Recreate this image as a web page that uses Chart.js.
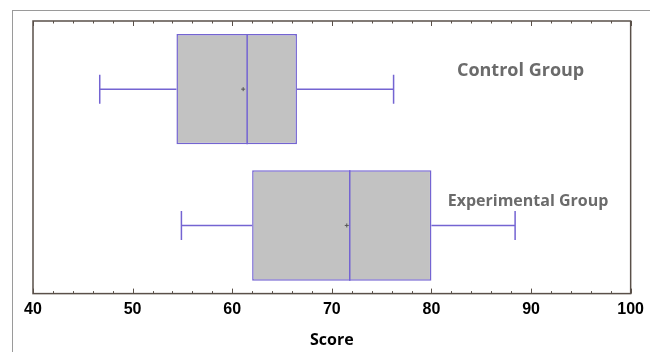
<!DOCTYPE html>
<html>
<head>
<meta charset="utf-8">
<script src="https://cdn.jsdelivr.net/npm/chart.js@4"></script>
<style>
  html, body { margin: 0; padding: 0; background: #fff; }
  #wrap { width: 650px; height: 352px; }
</style>
</head>
<body>
<div id="wrap"><canvas id="box-chart" width="650" height="352"></canvas></div>
<script>
const categories = ['Control Group', 'Experimental Group']
const whiskerLow = [46.7, 54.9]
const q1 = [54.4, 62.0]
const medians = [61.5, 71.8]
const q3 = [66.5, 80.0]
const whiskerHigh = [76.2, 88.4]
const means = [61.1, 71.5]
const xTicks = [40, 50, 60, 70, 80, 90, 100]

const boxColor = '#c2c2c2'
const lineColor = '#7464d2'

// frame, inner ticks, whiskers, medians and group names
const boxPlotExtras = {
    id: 'boxPlotExtras',
    beforeDraw(chart) {
        const ctx = chart.ctx
        ctx.save()
        ctx.strokeStyle = '#9a9a9a'
        ctx.lineWidth = 1
        ctx.strokeRect(12.5, 10.5, 660, 360)
        ctx.restore()
    },
    afterDatasetsDraw(chart) {
        const ctx = chart.ctx
        const area = chart.chartArea
        const x = chart.scales.x
        const meta = chart.getDatasetMeta(0)
        ctx.save()

        // plot frame
        ctx.strokeStyle = '#5a5049'
        ctx.lineWidth = 1.5
        ctx.strokeRect(area.left, area.top, area.right - area.left, area.bottom - area.top)

        // inside ticks, bottom and top
        ctx.lineWidth = 1
        for (let v = x.min; v <= x.max; v += 2) {
            const px = Math.round(x.getPixelForValue(v)) + 0.5
            const len = v % 10 === 0 ? 5 : 2.5
            ctx.beginPath()
            ctx.moveTo(px, area.bottom)
            ctx.lineTo(px, area.bottom - len)
            ctx.moveTo(px, area.top)
            ctx.lineTo(px, area.top + len)
            ctx.stroke()
        }

        meta.data.forEach((bar, i) => {
            const y = bar.y
            const half = bar.height / 2
            const cap = 14.5
            ctx.strokeStyle = lineColor
            ctx.lineWidth = 1.5
            ctx.beginPath()
            // whiskers
            ctx.moveTo(x.getPixelForValue(whiskerLow[i]), y)
            ctx.lineTo(x.getPixelForValue(q1[i]), y)
            ctx.moveTo(x.getPixelForValue(q3[i]), y)
            ctx.lineTo(x.getPixelForValue(whiskerHigh[i]), y)
            ctx.moveTo(x.getPixelForValue(whiskerLow[i]), y - cap)
            ctx.lineTo(x.getPixelForValue(whiskerLow[i]), y + cap)
            ctx.moveTo(x.getPixelForValue(whiskerHigh[i]), y - cap)
            ctx.lineTo(x.getPixelForValue(whiskerHigh[i]), y + cap)
            // median
            ctx.moveTo(x.getPixelForValue(medians[i]), y - half)
            ctx.lineTo(x.getPixelForValue(medians[i]), y + half)
            ctx.stroke()

            // mean mark
            const mx = x.getPixelForValue(means[i])
            ctx.strokeStyle = '#555'
            ctx.lineWidth = 1
            ctx.beginPath()
            ctx.moveTo(mx - 2, y)
            ctx.lineTo(mx + 2, y)
            ctx.moveTo(mx, y - 2)
            ctx.lineTo(mx, y + 2)
            ctx.stroke()
        })

        // group names
        ctx.fillStyle = '#6b6b6b'
        ctx.textAlign = 'center'
        ctx.textBaseline = 'middle'
        const c0 = meta.data[0], c1 = meta.data[1]
        ctx.font = 'bold 18px "Open Sans"'
        ctx.fillText(categories[0], x.getPixelForValue(88.95), c0.y - 18)
        ctx.font = 'bold 16px "Open Sans"'
        ctx.fillText(categories[1], x.getPixelForValue(89.7), c1.y - 24)
        ctx.restore()
    }
}

const config = {
    type: 'bar',
    data: {
        labels: categories,
        datasets: [{
            data: categories.map((c, i) => [q1[i], q3[i]]),
            backgroundColor: boxColor,
            borderColor: lineColor,
            borderWidth: 1.5,
            borderSkipped: false,
            categoryPercentage: 1,
            barPercentage: 0.81
        }]
    },
    options: {
        indexAxis: 'y',
        responsive: false,
        animation: false,
        layout: { padding: { left: 33, right: 19, top: 21, bottom: 2 } },
        scales: {
            x: {
                min: 40,
                max: 100,
                afterBuildTicks: axis => { axis.ticks = xTicks.map(v => ({ value: v })) },
                grid: { display: false, drawTicks: false },
                border: { display: false },
                ticks: {
                    padding: 6,
                    color: '#000',
                    font: { family: '"Liberation Sans"', weight: 'bold', size: 16 }
                },
                title: {
                    display: true,
                    text: 'Score',
                    color: '#000',
                    padding: { top: 6, bottom: 0 },
                    font: { family: '"Open Sans"', weight: 'bold', size: 16 }
                }
            },
            y: { display: false }
        },
        plugins: {
            legend: { display: false },
            tooltip: { enabled: false }
        }
    },
    plugins: [boxPlotExtras]
}

new Chart(document.getElementById('box-chart').getContext('2d'), config)
</script>
</body>
</html>
